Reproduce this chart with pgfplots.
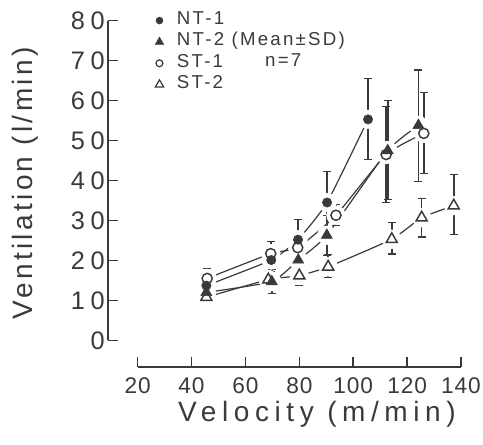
\documentclass[border=0pt]{standalone}
\usepackage{fontspec}
\setmainfont{Liberation Sans}
\newfontfamily\xlabfont{Liberation Sans}[LetterSpace=20]
\newfontfamily\ylabfont{Liberation Sans}[LetterSpace=12]
\newfontfamily\yfont{Liberation Sans}[LetterSpace=22]
\newfontfamily\xfont{Liberation Sans}[LetterSpace=4]
\newfontfamily\legfont{Liberation Sans}[LetterSpace=12]
\usepackage{pgfplots}
\pgfplotsset{compat=1.18}
\definecolor{ink}{HTML}{3A3A3A}

\pgfplotstableread{
x y ep em
45.5 13.7 2.5 2.5
69.6 20.1 3.0 3.0
79.5 25.2 5.1 5.0
90.3 34.5 7.7 7.7
105.5 55.3 10.2 10.0
}\ntone
\pgfplotstableread{
x y ep em
45.5 12.0 2.0 2.0
69.8 14.7 3.0 3.0
79.6 20.1 3.0 3.0
90.2 26.3 5.0 5.0
112.8 47.5 12.5 12.2
124.2 53.8 13.9 14.0
}\nttwo
\pgfplotstableread{
x y ep em
45.8 15.5 2.5 2.5
69.4 21.7 3.0 3.0
79.4 23.2 3.0 3.0
93.6 31.3 2.7 2.5
112.2 46.5 12.0 12.0
126.2 51.8 10.2 10.0
}\stone
\pgfplotstableread{
x y ep em
45.5 10.8 1.5 1.5
68.5 15.2 2.0 2.0
80.0 16.2 2.6 2.5
90.7 18.4 3.1 2.7
114.3 25.3 4.2 3.7
125.4 30.7 4.8 4.8
137.3 33.7 7.8 7.2
}\sttwo

\begin{document}
\begin{tikzpicture}
\begin{axis}[
  scale only axis, width=264.75pt, height=259.5pt,
  xmin=9, xmax=140, ymin=-6.6, ymax=80,
  clip=false,
  axis line style={draw=none},
  xtick={20,40,...,140}, ytick={0,10,...,80},
  xtick pos=bottom, ytick pos=left,
  tick align=inside,
  major tick length=7.5pt,
  every tick/.style={ink, line width=1.2pt},
  /pgf/number format/assume math mode=true,
  xticklabel style={font=\xfont\fontsize{17}{18}\selectfont, text=ink, yshift=-5pt},
  yticklabel style={font=\yfont\fontsize{19}{20}\selectfont, text=ink, xshift=1pt},
  xlabel={Velocity (m/min)},
  ylabel={Ventilation (l/min)},
  xlabel style={font=\xlabfont\fontsize{21}{22}\selectfont, text=ink, at={(axis description cs:0.592,-0.158)}, anchor=base},
  ylabel style={font=\ylabfont\fontsize{21}{22}\selectfont, text=ink, at={(axis description cs:-0.2125,0.53)}, anchor=base, rotate=0},
  legend style={at={(axis description cs:0.122,1.0396)}, anchor=north west, draw=none, fill=none,
    font=\legfont\fontsize{14}{14}\selectfont, text=ink,
    nodes={inner sep=0pt, text height=11pt, text depth=5pt}, column sep=10pt},
  legend cell align=left,
]
% connecting lines
\addplot[ink, line width=0.9pt, smooth, tension=0.3, forget plot] table[x=x,y=y] {\ntone};
\addplot[ink, line width=0.9pt, smooth, tension=0.3, forget plot] table[x=x,y=y] {\nttwo};
\addplot[ink, line width=0.9pt, smooth, tension=0.3, forget plot] table[x=x,y=y] {\stone};
\addplot[ink, line width=0.9pt, smooth, tension=0.3, forget plot] table[x=x,y=y] {\sttwo};
% white halos (gaps of the lines at the symbols)
\addplot[only marks, mark=*, mark size=7pt, white, forget plot] table[x=x,y=y] {\ntone};
\addplot[only marks, mark=*, mark size=7pt, white, forget plot] table[x=x,y=y] {\nttwo};
\addplot[only marks, mark=*, mark size=7pt, white, forget plot] table[x=x,y=y] {\stone};
\addplot[only marks, mark=*, mark size=7pt, white, forget plot] table[x=x,y=y] {\sttwo};
% symbols with SD bars
\pgfplotsset{sdbars/.style={error bars/.cd, y dir=both, y explicit,
   error bar style={ink, line width=1.2pt},
   error mark options={ink, rotate=90, mark size=3pt, line width=1pt}}}
\addplot[only marks, mark=*, mark size=3.5pt, ink, fill=ink, forget plot, sdbars]
  table[x=x,y=y,y error plus=ep,y error minus=em] {\ntone};
\addplot[only marks, mark=triangle*, mark size=4.8pt, ink, fill=ink, forget plot, sdbars]
  table[x=x,y=y,y error plus=ep,y error minus=em] {\nttwo};
\addplot[only marks, mark=o, mark size=3.8pt, ink, mark options={fill=white, line width=1.1pt}, forget plot, sdbars]
  table[x=x,y=y,y error plus=ep,y error minus=em] {\stone};
\addplot[only marks, mark=triangle, mark size=4.8pt, ink, mark options={fill=white, line width=1.1pt}, forget plot, sdbars]
  table[x=x,y=y,y error plus=ep,y error minus=em] {\sttwo};
% legend
\addlegendimage{only marks, mark=*, ink, fill=ink, mark size=2.6pt}
\addlegendentry{NT-1}
\addlegendimage{only marks, mark=triangle*, ink, fill=ink, mark size=3.6pt}
\addlegendentry{NT-2 (Mean±SD)}
\addlegendimage{only marks, mark=o, ink, mark size=2.6pt, mark options={line width=0.9pt}}
\addlegendentry{ST-1}
\addlegendimage{only marks, mark=triangle, ink, mark size=3.6pt, mark options={line width=0.9pt}}
\addlegendentry{ST-2}
\node[anchor=west, font=\legfont\fontsize{14}{14}\selectfont, text=ink, inner sep=0pt] at (axis cs:67.25,70.2) {n=7};
% detached axis lines
\draw[ink, line width=1.5pt] (axis cs:9,0) -- (axis cs:9,80);
\draw[ink, line width=1.5pt] (axis cs:20,-6.6) -- (axis cs:140,-6.6);
\coordinate (bbBL) at (axis cs:-31.08,-26.12);
\coordinate (bbTR) at (axis cs:148.16,85.18);
\end{axis}
\pgfresetboundingbox
\path[use as bounding box] (bbBL) rectangle (bbTR);
\end{tikzpicture}
\end{document}
